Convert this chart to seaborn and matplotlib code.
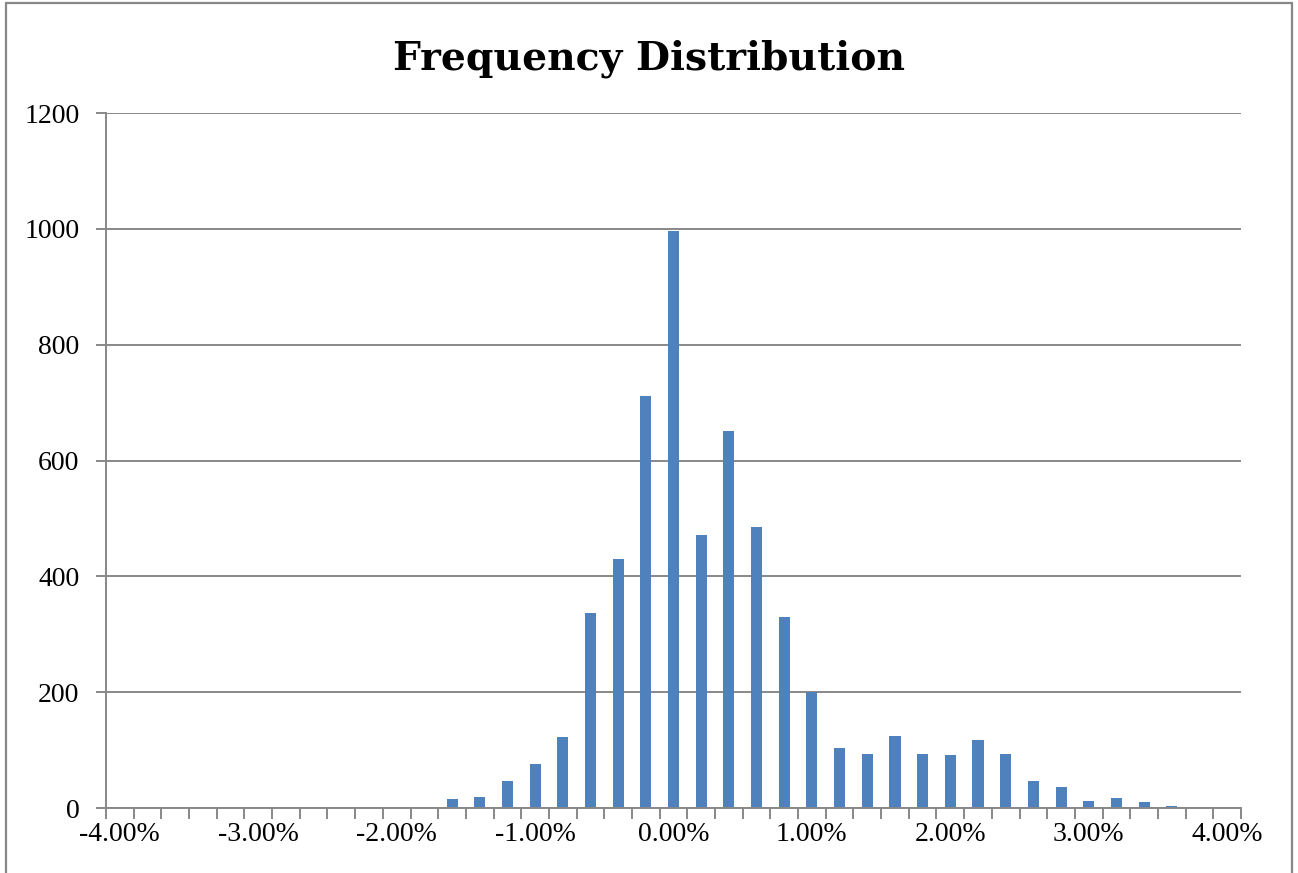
import matplotlib
matplotlib.use("Agg")
import matplotlib.pyplot as plt
import seaborn as sns
import pandas as pd
from matplotlib.patches import Rectangle
from matplotlib.ticker import FixedLocator

# Bin labels (category axis) and the counts
bins = ['-4.00%', '-3.80%', '-3.60%', '-3.40%', '-3.20%', '-3.00%', '-2.80%',
        '-2.60%', '-2.40%', '-2.20%', '-2.00%', '-1.80%', '-1.60%', '-1.40%',
        '-1.20%', '-1.00%', '-0.80%', '-0.60%', '-0.40%', '-0.20%', '0.00%',
        '0.20%', '0.40%', '0.60%', '0.80%', '1.00%', '1.20%', '1.40%',
        '1.60%', '1.80%', '2.00%', '2.20%', '2.40%', '2.60%', '2.80%',
        '3.00%', '3.20%', '3.40%', '3.60%', '3.80%', '4.00%']
counts = [0, 0, 0, 0, 0, 0, 0,
          0, 0, 0, 0, 0, 15, 19,
          47, 76, 122, 336, 430, 712, 996,
          472, 651, 485, 329, 200, 104, 94,
          125, 93, 92, 117, 94, 47, 37,
          12, 18, 10, 3, 0, 0]
y_ticks = [0, 200, 400, 600, 800, 1000, 1200]

df = pd.DataFrame({'bin': bins, 'count': counts})

sns.set_style("white")
plt.rcParams['font.family'] = ['Liberation Serif', 'DejaVu Serif']
plt.rcParams['text.color'] = 'black'

grey = '#888888'
W, H = 1298, 873
fig = plt.figure(figsize=(W / 100, H / 100), dpi=100)
ax = fig.add_axes([106 / W, 1 - 808 / H, (1241 - 106) / W, (808 - 113) / H])

sns.barplot(data=df, x='bin', y='count', order=bins, color='#4F81BD',
            saturation=1, width=0.4, linewidth=0, ax=ax)

ax.set_xlim(-0.5, len(bins) - 0.5)
ax.set_ylim(0, 1200)
ax.set_yticks(y_ticks)
ax.set_yticklabels([str(v) for v in y_ticks])
ax.yaxis.grid(True, color=grey, linewidth=1.4)
ax.set_axisbelow(True)

# labels every 1%, tick marks on category boundaries
ax.set_xticks(range(0, len(bins), 5))
ax.set_xticklabels(bins[::5])
ax.xaxis.set_minor_locator(FixedLocator([i - 0.5 for i in range(len(bins) + 1)]))
ax.tick_params(axis='x', which='major', length=0, pad=10, labelsize=20, labelcolor='black')
ax.tick_params(axis='x', which='minor', length=8, width=1.4, color=grey, direction='out', bottom=True)
ax.tick_params(axis='y', length=7, width=1.4, color=grey, pad=12, labelsize=20,
               labelcolor='black', left=True)

for side in ['top', 'right']:
    ax.spines[side].set_visible(False)
for side in ['left', 'bottom']:
    ax.spines[side].set_color(grey)
    ax.spines[side].set_linewidth(1.4)

ax.set_xlabel('')
ax.set_ylabel('')

fig.text(0.5, 1 - 69 / H, 'Frequency Distribution', ha='center', va='baseline',
         fontsize=28.3, fontweight='bold', color='black', family=['DejaVu Serif'])

# outer chart frame
fig.patches.append(Rectangle((5.5 / W, -0.05), (1292 - 5.5) / W, 1.05 - 3.5 / H,
                             transform=fig.transFigure, fill=False,
                             edgecolor=grey, linewidth=1.6))

fig.savefig('out.png', dpi=100)
